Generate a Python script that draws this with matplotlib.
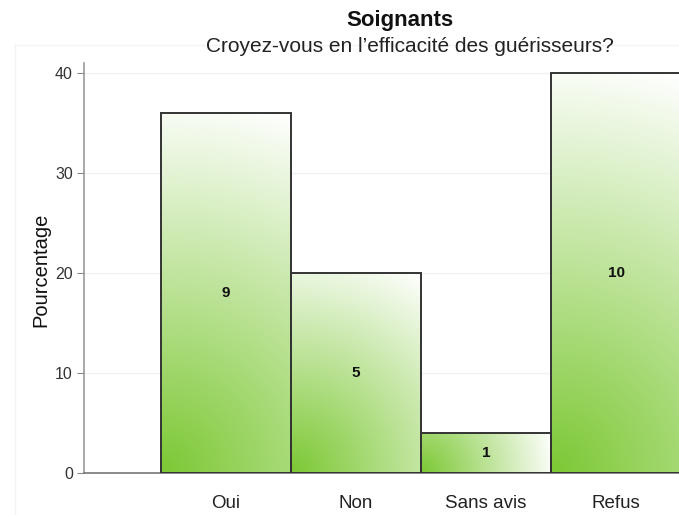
import numpy as np
import matplotlib
matplotlib.use("Agg")
import matplotlib.pyplot as plt
from matplotlib.colors import LinearSegmentedColormap
from matplotlib.lines import Line2D

categories = ["Oui", "Non", "Sans avis", "Refus"]
percent = [36, 20, 4, 40]
counts = [9, 5, 1, 10]
yticks = [0, 10, 20, 30, 40]

plt.rcParams['font.family'] = ['Liberation Sans', 'DejaVu Sans']

green = LinearSegmentedColormap.from_list("g", ["#7cc834", "#ffffff"])

W, H = 679, 515
fig = plt.figure(figsize=(W / 100, H / 100), dpi=100)
ax = fig.add_axes([84 / W, 42 / H, 642 / W, 410 / H])

# faint frame of the plotting region
fig.add_artist(Line2D([15 / W, 1], [1 - 45 / H] * 2, color="#f3f3f3", lw=1))
fig.add_artist(Line2D([15 / W] * 2, [0, 1 - 45 / H], color="#f3f3f3", lw=1))

xlim = (-1.092, 3.846)
ylim = (0, 41)
ax.set_xlim(*xlim)
ax.set_ylim(*ylim)

for y in yticks:
    ax.axhline(y, color="#f0f2f2", lw=1, zorder=0)

# pixels per data unit, used for the radial gradient
sx = 642 / (xlim[1] - xlim[0])
sy = 410 / (ylim[1] - ylim[0])

bars = ax.bar(range(len(categories)), percent, width=1.0, facecolor="none",
              edgecolor="#333333", linewidth=1.4, zorder=3)
for i, (b, h) in enumerate(zip(bars, percent)):
    x0, w = b.get_x(), b.get_width()
    px = np.linspace(0, w * sx, 200)
    py = np.linspace(0, h * sy, 200)
    dist = np.hypot(px[None, :], py[:, None]) / np.hypot(w * sx, h * sy)
    im = ax.imshow(dist, cmap=green, vmin=0, vmax=1, origin="lower",
                   aspect="auto", extent=[x0, x0 + w, 0, h], zorder=2,
                   interpolation="bilinear")
    im.set_clip_path(b)
    ax.text(i, h / 2, str(counts[i]), ha="center", va="center",
            fontsize=11, fontweight="bold", color="#111111", zorder=4)

ax.set_xticks(range(len(categories)))
ax.set_xticklabels(categories, fontsize=13.5, color="#222222")
ax.tick_params(axis="x", length=0, pad=16)
ax.set_yticks(yticks)
ax.tick_params(axis="y", length=5, color="#888888", labelsize=11.5,
               labelcolor="#333333", pad=3)

for s in ["top", "right"]:
    ax.spines[s].set_visible(False)
ax.spines["left"].set_color("#999999")
ax.spines["bottom"].set_color("#777777")
ax.spines["left"].set_linewidth(1.2)
ax.spines["bottom"].set_linewidth(1.2)

fig.text(41 / W, 1 - 270 / H, "Pourcentage", rotation=90,
         ha="center", va="center", fontsize=14.5, color="#111111")

fig.text(400 / W, 1 - 26 / H, "Soignants", ha="center", va="baseline",
         fontsize=16, fontweight="bold", color="#111111")
fig.text(410 / W, 1 - 52 / H, "Croyez-vous en l\u2019efficacit\u00e9 des gu\u00e9risseurs?",
         ha="center", va="baseline", fontsize=15, color="#222222")

fig.savefig("out.png", dpi=100)
